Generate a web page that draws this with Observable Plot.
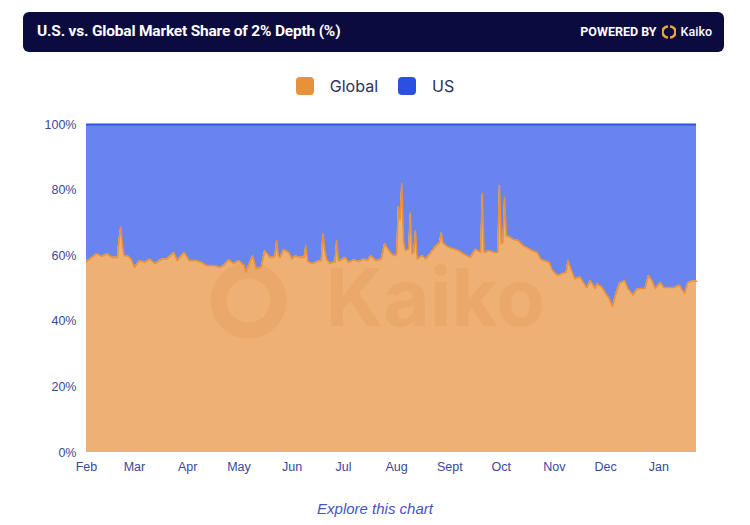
<!DOCTYPE html>
<html><head><meta charset="utf-8">
<script src="https://cdn.jsdelivr.net/npm/d3@7"></script>
<script src="https://cdn.jsdelivr.net/npm/@observablehq/plot@0.6"></script>
<style>
body{margin:0;background:#fff;width:750px;height:525px;overflow:hidden;position:relative;font-family:Inter,"Noto Sans",sans-serif;}
#header{position:absolute;left:23px;top:12px;width:701px;height:40px;background:#0b0b40;border-radius:6px;color:#fff;}
#title{position:absolute;left:14px;top:10px;font-family:Roboto,sans-serif;font-weight:700;font-size:15.5px;letter-spacing:-0.2px;white-space:nowrap;}
#powered{position:absolute;right:12px;top:12px;font-family:Roboto,sans-serif;font-weight:700;font-size:12.5px;display:flex;align-items:center;gap:5px;white-space:nowrap;}
#powered .brand{font-weight:500;font-size:12.5px;}
#legend{position:absolute;top:76px;left:0;width:750px;display:flex;justify-content:center;align-items:center;font-size:16px;color:#2d3160;font-family:Inter,sans-serif;}
.sw{width:18px;height:18px;border-radius:4px;display:inline-block;margin-right:16px;}
.item{display:flex;align-items:center;margin:0 10px;}
#chart{position:absolute;top:108px;left:0;}
#explore{position:absolute;top:500px;left:0;width:750px;text-align:center;font-family:"Liberation Sans",Arial,sans-serif;font-style:italic;font-size:15px;color:#3f56c4;}
</style>
</head><body>
<div id="header">
  <div id="title">U.S. vs. Global Market Share of 2% Depth (%)</div>
  <div id="powered">POWERED BY
    <svg width="14" height="14" viewBox="0 0 14 14"><path d="M6 1.5 A5.5 5.5 0 0 0 6 12.5" fill="none" stroke="#f0a23c" stroke-width="2.6"/><path d="M8 1.5 A5.5 5.5 0 0 1 8 12.5" fill="none" stroke="#f0a23c" stroke-width="2.6"/></svg>
    <span class="brand">Kaiko</span></div>
</div>
<div id="legend">
  <div class="item"><span class="sw" style="background:#e8913a"></span>Global</div>
  <div class="item"><span class="sw" style="background:#2a50e2"></span>US</div>
</div>
<div id="chart"></div>
<div id="explore">Explore this chart</div>
<script>
const dates = [
"2022-02-01","2022-02-03","2022-02-07","2022-02-10","2022-02-13","2022-02-16","2022-02-19","2022-02-20","2022-02-21","2022-02-22","2022-02-23","2022-02-25","2022-02-27",
"2022-03-01","2022-03-04","2022-03-07","2022-03-10","2022-03-13","2022-03-17","2022-03-20","2022-03-24","2022-03-26","2022-03-30",
"2022-04-02","2022-04-06","2022-04-09","2022-04-12","2022-04-16","2022-04-20","2022-04-22","2022-04-25","2022-04-28",
"2022-05-01","2022-05-04","2022-05-05","2022-05-09","2022-05-11","2022-05-14","2022-05-16","2022-05-19","2022-05-21","2022-05-22","2022-05-23","2022-05-24","2022-05-25","2022-05-27","2022-05-30",
"2022-06-01","2022-06-03","2022-06-05","2022-06-08","2022-06-09","2022-06-10","2022-06-11","2022-06-13","2022-06-17","2022-06-18","2022-06-19","2022-06-20","2022-06-21","2022-06-23","2022-06-25","2022-06-26","2022-06-27","2022-06-28","2022-06-29",
"2022-07-02","2022-07-04","2022-07-07","2022-07-10","2022-07-13","2022-07-15","2022-07-17","2022-07-20","2022-07-23","2022-07-25","2022-07-27","2022-07-29","2022-07-31",
"2022-08-01","2022-08-02","2022-08-03","2022-08-04","2022-08-05","2022-08-06","2022-08-08","2022-08-09","2022-08-10","2022-08-11","2022-08-12","2022-08-13","2022-08-16","2022-08-18","2022-08-21","2022-08-24","2022-08-26","2022-08-27","2022-08-28","2022-08-30",
"2022-09-01","2022-09-06","2022-09-09","2022-09-13","2022-09-16","2022-09-19","2022-09-20","2022-09-21","2022-09-24","2022-09-27","2022-09-29","2022-09-30",
"2022-10-01","2022-10-02","2022-10-03","2022-10-04","2022-10-05","2022-10-08","2022-10-11","2022-10-14","2022-10-16","2022-10-19","2022-10-22","2022-10-24","2022-10-26","2022-10-29","2022-10-31",
"2022-11-03","2022-11-06","2022-11-08","2022-11-09","2022-11-11","2022-11-13","2022-11-16","2022-11-19","2022-11-20","2022-11-22","2022-11-25","2022-11-26","2022-11-29",
"2022-12-01","2022-12-03","2022-12-05","2022-12-07","2022-12-09","2022-12-12","2022-12-14","2022-12-17","2022-12-19","2022-12-21","2022-12-24","2022-12-26","2022-12-28","2022-12-30",
"2023-01-02","2023-01-04","2023-01-07","2023-01-10","2023-01-13","2023-01-16","2023-01-18","2023-01-21","2023-01-23"
];
const globalShare = [
58.2,59,60.6,59.8,60.6,59.5,59.5,65,68.7,63,60,60,59,
56.5,58.5,58,59,57.6,59,59,61,58.5,61,
58.5,58.5,58,57,57,56.5,57,58.8,57.6,
58.5,57,55,60,56,56.5,61.6,59.5,59.5,60,64.6,60,59.5,61.9,61,
59,60,59.5,59.5,63,58.5,58,57.6,58.5,58.5,66.7,62,59,57.6,58,58,64.6,58.5,58.5,
59.5,58,58.8,58.2,59,58.5,60,58.5,59,63.7,62,60.6,60,
60.5,75,71,82,64.6,61.6,62,73,60.6,61,67.7,59,60,59,61,63,64,67,64,63,
62.5,61.6,60.6,59.5,62,61,79,61,61.6,61,61,81.4,
63.7,64,77.7,66,66,65,64.6,63,62.5,61.6,61,59,58.5,58,55.5,
54,54.6,55,58.5,55.5,53,53.5,51,50.3,52.4,50,51.5,50.3,
48.5,47,44.5,48.5,51.5,52.4,50,48,49.7,50,50,54,52.4,50,
51.8,50.3,50.3,50.3,51,48.5,51.8,52.4,52.2
];
const yTicks = [0,20,40,60,80,100];
const monthNames = ["Jan","Feb","Mar","Apr","May","Jun","Jul","Aug","Sept","Oct","Nov","Dec"];
const startDate = "2022-02-01", endDate = "2023-01-23";

const data = dates.map((d,i)=>({date:new Date(d+"T00:00:00Z"), g:globalShare[i]}));
const start = new Date(startDate+"T00:00:00Z"), end = new Date(endDate+"T00:00:00Z");

const chart = Plot.plot({
  width:750, height:374, marginLeft:86, marginRight:54, marginTop:16, marginBottom:30,
  style:{fontFamily:"'Liberation Sans', Arial, sans-serif", fontSize:"12.5px", color:"#3a4898", background:"transparent"},
  x:{type:"utc", domain:[start,end], ticks:d3.utcMonth.range(start,end), tickFormat:d=>monthNames[d.getUTCMonth()], tickSize:0, tickPadding:10, label:null},
  y:{domain:[0,100], ticks:yTicks, tickFormat:d=>d+"%", tickSize:0, tickPadding:10, label:null},
  marks:[
    Plot.areaY(data,{x:"date", y1:"g", y2:100, fill:"#6884ee"}),
    Plot.areaY(data,{x:"date", y1:0, y2:"g", fill:"#efb074"}),
    Plot.dot([0],{frameAnchor:"middle", dx:-143, dy:12, r:30, stroke:"#d9823c", strokeWidth:16, strokeOpacity:0.15, fill:"none"}),
    Plot.text(["Kaiko"],{text:d=>d, frameAnchor:"middle", dx:44, dy:12, fontSize:80, fontWeight:700, fill:"#d9823c", fillOpacity:0.15, fontFamily:"Inter, sans-serif"}),
    Plot.lineY(data,{x:"date", y:"g", stroke:"#e8913a", strokeWidth:1.6}),
    Plot.ruleY([100],{stroke:"#2f55e0", strokeWidth:2})
  ]
});
document.getElementById("chart").appendChild(chart);
</script>
</body></html>
